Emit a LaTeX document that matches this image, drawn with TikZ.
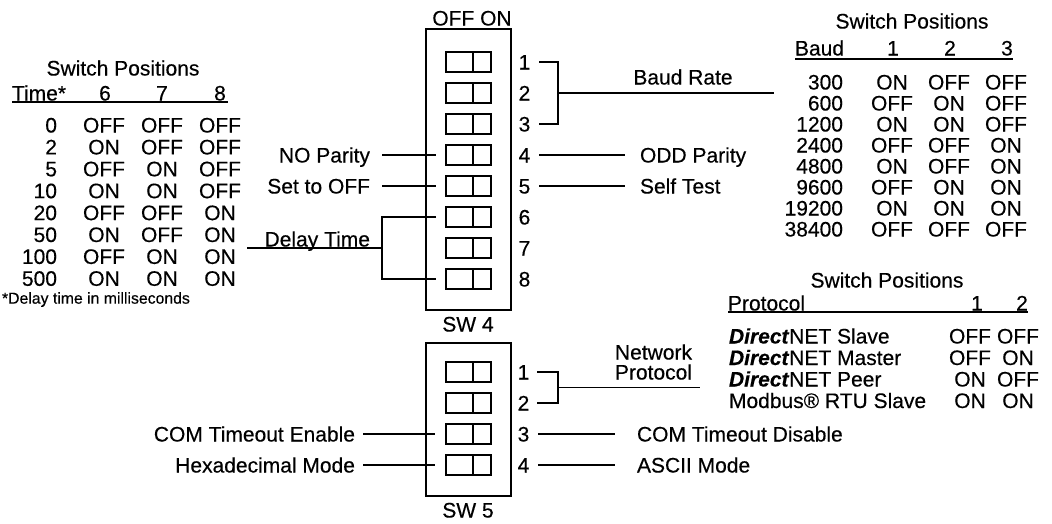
\documentclass[tikz,border=0pt]{standalone}
\usepackage{fontspec}
\setmainfont{Liberation Sans}[FakeBold=0.35]
\begin{document}
\begin{tikzpicture}[x=1pt,y=-1pt,
  every node/.style={inner sep=0pt,outer sep=0pt,font=\fontsize{21}{24}\selectfont,text height=15pt,text depth=0pt},
  ln/.style={line width=1.2pt},
  swbox/.style={draw,line width=1.2pt,inner sep=0pt,text height=,text depth=},
  sw/.style={draw,line width=1.1pt,minimum width=45pt,minimum height=20pt,text height=,text depth=},
  small/.style={font=\fontsize{15.8}{18}\selectfont,text height=11.3pt}
]
\fill[white] (0,0) rectangle (1052,523);
\useasboundingbox (0,0) rectangle (1052,523);

% ---------------- SW4 ----------------
\node[swbox,minimum width=85pt,minimum height=281pt] (sw4) at (468.5,169.5) {};
\node (offon) at (472,18) {OFF ON};
\node (sw4l) at (468,324) {SW 4};
\foreach \i in {1,...,8}{
  \node[sw] (s4\i) at (468.5,{62+31*(\i-1)}) {};
  \draw[ln] ([xshift=4.5pt]s4\i.north) -- ([xshift=4.5pt]s4\i.south);
  \node (n4\i) at (524.5,{62+31*(\i-1)}) {\i};
}
% baud rate bracket
\coordinate (bb1) at (558,62);
\coordinate (bb3) at (558,124);
\coordinate (bbm) at (558,93);
\coordinate (bbe) at (774,93);
\draw[ln] ([xshift=9pt]n41.east) -- (bb1) -- (bb3) -- ([xshift=9pt]n43.east);
\draw[ln] (bbm) -- (bbe);
\node (baud) at (683,77) {Baud Rate};
% 4, 5 right
\node[anchor=west] (odd) at (640,155) {ODD Parity};
\node[anchor=west] (self) at (640,186) {Self Test};
\draw[ln] ([xshift=9pt]n44.east) -- ([xshift=-15pt]odd.west);
\draw[ln] ([xshift=9pt]n45.east) -- ([xshift=-15pt]self.west);
% 4, 5 left
\node[anchor=east] (nop) at (370,155) {NO Parity};
\node[anchor=east] (stoff) at (370,186) {Set to OFF};
\draw[ln] ([xshift=12pt]nop.east) -- ([xshift=-10pt]s44.west);
\draw[ln] ([xshift=12pt]stoff.east) -- ([xshift=-10pt]s45.west);
% delay bracket
\coordinate (db6) at (382,217);
\coordinate (db8) at (382,279);
\coordinate (dbm) at (382,248);
\coordinate (dbe) at (247,248);
\draw[ln] ([xshift=-10pt]s46.west) -- (db6) -- (db8) -- ([xshift=-10pt]s48.west);
\draw[ln] (dbm) -- (dbe);
\node[anchor=south east] (delay) at (370,246.5) {Delay Time};

% ---------------- SW5 ----------------
\node[swbox,minimum width=85pt,minimum height=153pt] (sw5) at (468.5,419.5) {};
\node (sw5l) at (468,510) {SW 5};
\foreach \i in {1,...,4}{
  \node[sw] (s5\i) at (468.5,{372+31*(\i-1)}) {};
  \draw[ln] ([xshift=4.5pt]s5\i.north) -- ([xshift=4.5pt]s5\i.south);
  \node (n5\i) at (523.5,{372+31*(\i-1)}) {\i};
}
\coordinate (nb1) at (558,372);
\coordinate (nb2) at (558,403);
\coordinate (nbm) at (558,387.5);
\coordinate (nbe) at (700,387.5);
\draw[ln] ([xshift=8pt]n51.east) -- (nb1) -- (nb2) -- ([xshift=8pt]n52.east);
\draw[ln] (nbm) -- (nbe);
\node[anchor=east] (np1) at (692,352) {Network};
\node[anchor=east] (np2) at (692,372) {Protocol};
\node[anchor=west] (cdis) at (637,434) {COM Timeout Disable};
\node[anchor=west] (ascii) at (637,465) {ASCII Mode};
\draw[ln] ([xshift=9pt]n53.east) -- ([xshift=-22pt]cdis.west);
\draw[ln] ([xshift=9pt]n54.east) -- ([xshift=-22pt]ascii.west);
\node[anchor=east] (cen) at (355,434) {COM Timeout Enable};
\node[anchor=east] (hex) at (355,465) {Hexadecimal Mode};
\draw[ln] ([xshift=8pt]cen.east) -- ([xshift=-11pt]s53.west);
\draw[ln] ([xshift=8pt]hex.east) -- ([xshift=-11pt]s54.west);

% ---------------- Delay table ----------------
\node (ltt) at (123,68) {Switch Positions};
\node[anchor=west] (lth) at (12,93) {Time*};
\node (lh6) at (105,93) {6};
\node (lh7) at (162,93) {7};
\node (lh8) at (220,93) {8};
\draw[ln] (12,102) -- (228,102);
\foreach \t/\a/\b/\c [count=\i from 0] in {0/OFF/OFF/OFF,2/ON/OFF/OFF,5/OFF/ON/OFF,10/ON/ON/OFF,20/OFF/OFF/ON,50/ON/OFF/ON,100/OFF/ON/ON,500/ON/ON/ON}{
  \node[anchor=east] (lt\i) at (57,{125+21.9*\i}) {\t};
  \node (la\i) at (104,{125+21.9*\i}) {\a};
  \node (lb\i) at (162,{125+21.9*\i}) {\b};
  \node (lc\i) at (220,{125+21.9*\i}) {\c};
}
\node[anchor=west,small] (fn) at (2,298) {*Delay time in milliseconds};

% ---------------- Baud table ----------------
\node (btt) at (912,21) {Switch Positions};
\node[anchor=west] (bth) at (795,48) {Baud};
\node (bh1) at (893,48) {1};
\node (bh2) at (950,48) {2};
\node (bh3) at (1007,48) {3};
\draw[ln] (795,59) -- (1013,59);
\foreach \t/\a/\b/\c [count=\i from 0] in {300/ON/OFF/OFF,600/OFF/ON/OFF,1200/ON/ON/OFF,2400/OFF/OFF/ON,4800/ON/OFF/ON,9600/OFF/ON/ON,19200/ON/ON/ON,38400/OFF/OFF/OFF}{
  \node[anchor=east] (bt\i) at (843,{82+21*\i}) {\t};
  \node (ba\i) at (892,{82+21*\i}) {\a};
  \node (bb\i) at (949,{82+21*\i}) {\b};
  \node (bc\i) at (1006,{82+21*\i}) {\c};
}

% ---------------- Protocol table ----------------
\node (ptt) at (887,280) {Switch Positions};
\node[anchor=west] (pth) at (728,303) {Protocol};
\node (ph1) at (977,303) {1};
\node (ph2) at (1022,303) {2};
\draw[ln] (728,312) -- (1028,312);
\node[anchor=west] (pr0) at (729,336) {\textbf{\textit{Direct}}NET Slave};
\node[anchor=west] (pr1) at (729,357.5) {\textbf{\textit{Direct}}NET Master};
\node[anchor=west] (pr2) at (729,379) {\textbf{\textit{Direct}}NET Peer};
\node[anchor=west] (pr3) at (729,400.5) {Modbus® RTU Slave};
\foreach \a/\b [count=\i from 0] in {OFF/OFF,OFF/ON,ON/OFF,ON/ON}{
  \node (pa\i) at (970,{336+21.5*\i}) {\a};
  \node (pb\i) at (1018,{336+21.5*\i}) {\b};
}
\end{tikzpicture}
\end{document}
